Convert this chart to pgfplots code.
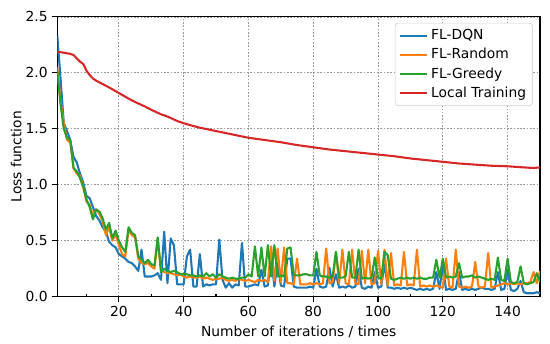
\documentclass[border=0pt]{standalone}
\usepackage{fontspec}
\setmainfont{DejaVu Sans}
\usepackage{pgfplots}
\usepackage{pgfplotstable}
\pgfplotsset{compat=1.18}
\definecolor{c0}{HTML}{1F77B4}
\definecolor{c1}{HTML}{FF7F0E}
\definecolor{c2}{HTML}{2CA02C}
\definecolor{c3}{HTML}{D62728}
\pgfplotstableread{
x dqn random greedy
1 2.33 2.05 2.02
2 1.95 1.75 1.72
3 1.55 1.55 1.50
4 1.48 1.40 1.42
5 1.40 1.38 1.40
6 1.25 1.15 1.15
7 1.20 1.10 1.12
8 1.10 1.08 1.06
9 1.02 0.98 0.98
10 0.90 0.85 0.87
11 0.88 0.82 0.80
12 0.80 0.72 0.69
13 0.72 0.78 0.78
14 0.68 0.74 0.76
15 0.62 0.67 0.70
16 0.58 0.55 0.60
17 0.49 0.62 0.66
18 0.46 0.50 0.52
19 0.44 0.56 0.59
20 0.38 0.46 0.50
21 0.36 0.38 0.44
22 0.34 0.36 0.40
23 0.31 0.60 0.62
24 0.30 0.55 0.57
25 0.27 0.53 0.55
26 0.23 0.34 0.36
27 0.42 0.30 0.33
28 0.18 0.29 0.30
29 0.18 0.30 0.33
30 0.18 0.27 0.29
31 0.19 0.25 0.28
32 0.21 0.52 0.53
33 0.15 0.24 0.22
34 0.58 0.22 0.25
35 0.12 0.21 0.23
36 0.52 0.21 0.22
37 0.46 0.20 0.23
38 0.11 0.19 0.22
39 0.11 0.20 0.20
40 0.11 0.18 0.20
41 0.36 0.17 0.20
42 0.42 0.18 0.19
43 0.09 0.17 0.19
44 0.09 0.17 0.18
45 0.38 0.18 0.19
46 0.09 0.16 0.18
47 0.11 0.17 0.21
48 0.10 0.16 0.18
49 0.11 0.15 0.20
50 0.11 0.16 0.17
51 0.51 0.16 0.20
52 0.15 0.17 0.18
53 0.08 0.15 0.17
54 0.12 0.14 0.16
55 0.08 0.15 0.17
56 0.11 0.14 0.16
57 0.10 0.16 0.16
58 0.48 0.15 0.17
59 0.09 0.14 0.17
60 0.09 0.15 0.20
61 0.10 0.14 0.18
62 0.11 0.13 0.45
63 0.10 0.15 0.18
64 0.24 0.14 0.44
65 0.09 0.15 0.18
66 0.10 0.13 0.46
67 0.36 0.45 0.18
68 0.09 0.14 0.46
69 0.30 0.43 0.18
70 0.10 0.13 0.19
71 0.09 0.44 0.18
72 0.34 0.12 0.43
73 0.34 0.12 0.44
74 0.09 0.11 0.19
75 0.08 0.34 0.19
76 0.08 0.11 0.19
77 0.08 0.11 0.20
78 0.08 0.11 0.20
79 0.09 0.12 0.19
80 0.08 0.11 0.19
81 0.25 0.12 0.40
82 0.09 0.11 0.19
83 0.08 0.12 0.18
84 0.09 0.43 0.18
85 0.26 0.12 0.17
86 0.09 0.13 0.18
87 0.20 0.40 0.40
88 0.08 0.12 0.17
89 0.09 0.42 0.17
90 0.08 0.12 0.18
91 0.10 0.11 0.40
92 0.08 0.42 0.17
93 0.09 0.12 0.17
94 0.25 0.11 0.42
95 0.08 0.41 0.16
96 0.07 0.12 0.17
97 0.09 0.42 0.16
98 0.08 0.11 0.17
99 0.22 0.12 0.35
100 0.08 0.41 0.17
101 0.09 0.11 0.16
102 0.30 0.42 0.40
103 0.08 0.10 0.37
104 0.08 0.39 0.16
105 0.07 0.10 0.15
106 0.08 0.11 0.16
107 0.07 0.10 0.17
108 0.08 0.40 0.16
109 0.07 0.10 0.17
110 0.08 0.11 0.16
111 0.07 0.10 0.17
112 0.06 0.42 0.16
113 0.07 0.09 0.17
114 0.06 0.10 0.16
115 0.07 0.09 0.16
116 0.06 0.10 0.17
117 0.07 0.09 0.17
118 0.22 0.10 0.33
119 0.07 0.09 0.17
120 0.28 0.08 0.34
121 0.06 0.34 0.17
122 0.07 0.09 0.18
123 0.06 0.08 0.17
124 0.07 0.42 0.18
125 0.22 0.09 0.30
126 0.06 0.08 0.17
127 0.07 0.09 0.18
128 0.06 0.08 0.18
129 0.07 0.09 0.19
130 0.06 0.31 0.17
131 0.07 0.09 0.18
132 0.08 0.08 0.17
133 0.07 0.09 0.16
134 0.07 0.39 0.15
135 0.06 0.08 0.16
136 0.07 0.09 0.15
137 0.22 0.10 0.35
138 0.06 0.11 0.15
139 0.07 0.12 0.14
140 0.24 0.11 0.34
141 0.06 0.12 0.13
142 0.05 0.11 0.12
143 0.07 0.12 0.13
144 0.14 0.11 0.27
145 0.04 0.12 0.12
146 0.03 0.12 0.11
147 0.03 0.13 0.12
148 0.03 0.22 0.13
149 0.04 0.12 0.21
150 0.03 0.23 0.13
}\fltable
\pgfplotstableread{
x loss
1 2.185
2 2.185
3 2.18
4 2.175
5 2.17
6 2.16
7 2.13
8 2.10
9 2.08
10 2.02
11 1.98
12 1.95
13 1.93
14 1.915
15 1.90
17 1.87
20 1.82
23 1.77
25 1.74
28 1.70
30 1.67
33 1.63
35 1.61
38 1.57
40 1.55
43 1.525
45 1.51
50 1.48
55 1.45
60 1.42
65 1.40
70 1.38
75 1.355
80 1.335
85 1.315
90 1.30
95 1.285
100 1.27
105 1.255
110 1.235
115 1.22
120 1.205
125 1.19
130 1.18
135 1.17
140 1.165
145 1.155
148 1.15
150 1.155
}\localtable
\begin{document}
\begin{tikzpicture}
\begin{axis}[
  name=ax,
  scale only axis,
  width=347.9bp, height=201.6bp,
  xmin=1, xmax=150, ymin=0, ymax=2.5,
  xtick={20,40,...,140},
  ytick={0,0.5,...,2.5},
  extra x ticks={10,30,...,130},
  extra x tick labels={},
  extra x tick style={grid=none, tick align=inside, major tick length=2bp},
  tick align=outside,
  major tick length=3.5bp,
  xtick pos=bottom, ytick pos=left,
  tick style={black, line width=0.8bp},
  axis line style={line width=0.8bp},
  grid=major,
  major grid style={gray!80, line width=0.6bp, dash pattern=on 1.2bp off 1.2bp},
  /pgf/number format/assume math mode=true,
  yticklabel style={/pgf/number format/.cd, fixed, fixed zerofill, precision=1},
  xticklabel style={/pgf/number format/.cd, fixed},
  tick label style={font=\fontsize{10}{12}\selectfont},
  label style={font=\fontsize{10}{12}\selectfont},
  xlabel={Number of iterations / times},
  ylabel={Loss function},
  xlabel style={yshift=4bp},
  ylabel style={yshift=-4bp},
  legend style={at={(1,1)}, anchor=north east, xshift=-5.4bp, yshift=-4.3bp,
    draw=black!20, rounded corners=2bp, font=\fontsize{10}{12}\selectfont,
    inner sep=2.5bp, row sep=0.8bp},
  legend cell align=left,
  legend image code/.code={\draw[#1] (0bp,0bp) -- (20bp,0bp);},
  every axis plot/.append style={line width=1.5bp, line join=round},
]
\addplot[c0] table[x=x, y=dqn] {\fltable};
\addlegendentry{FL-DQN}
\addplot[c1] table[x=x, y=random] {\fltable};
\addlegendentry{FL-Random}
\addplot[c2] table[x=x, y=greedy] {\fltable};
\addlegendentry{FL-Greedy}
\addplot[c3] table[x=x, y=loss] {\localtable};
\addlegendentry{Local Training}
\end{axis}
\path (ax.south west) ++(-41.3bp,-33.8bp) coordinate (bl);
\path (ax.north east) ++(7.2bp,12.2bp) coordinate (tr);
\path (bl) rectangle (tr);
\end{tikzpicture}
\end{document}
